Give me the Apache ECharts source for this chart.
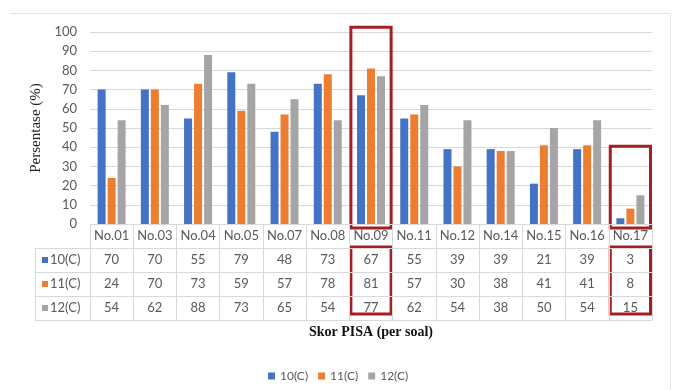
<!DOCTYPE html>
<html><head><meta charset="utf-8">
<script src="https://cdn.jsdelivr.net/npm/echarts@6/dist/echarts.min.js"></script>
<style>html,body{margin:0;padding:0;background:#fff}#c{width:676px;height:390px}</style>
</head><body><div id="c"></div>
<script>
const categories = ['No.01','No.03','No.04','No.05','No.07','No.08','No.09','No.11','No.12','No.14','No.15','No.16','No.17'];
const seriesNames = ['10(C)','11(C)','12(C)'];
const s10 = [70,70,55,79,48,73,67,55,39,39,21,39,3];
const s11 = [24,70,73,59,57,78,81,57,30,38,41,41,8];
const s12 = [54,62,88,73,65,54,77,62,54,38,50,54,15];
const yTicks = [0,10,20,30,40,50,60,70,80,90,100];
const highlights = ['No.09','No.17'];
const highlightTops = [102.5, 40.5];
const colors = ['#4472C4','#ED7D31','#A5A5A5'];
const allValues = [s10, s11, s12];

const chart = echarts.init(document.getElementById('c'));
const txt = '#595959', line = '#d9d9d9', font = 'Lato, "Open Sans", sans-serif';

const xAxes = [{
  type:'category', data:categories, position:'bottom', gridIndex:0,
  axisLine:{show:true,lineStyle:{color:line}},
  axisTick:{show:true,interval:0,length:96,lineStyle:{color:line}},
  axisLabel:{color:txt,fontSize:13,fontFamily:font,margin:5,interval:0}
}];
allValues.forEach((vals,i)=>{
  xAxes.push({
    type:'category', data:vals.map(String), position:'bottom', offset:24*(i+1),
    axisLine:{show:true,lineStyle:{color:line}},
    axisTick:{show:false},
    axisLabel:{color:txt,fontSize:13,fontFamily:font,margin:5,interval:0}
  });
});
xAxes.push({type:'category',data:categories.map(()=>''),position:'bottom',offset:96,
  axisLine:{show:true,lineStyle:{color:line}},axisTick:{show:false},axisLabel:{show:false}});

const option = {
  animation:false,
  color:colors,
  grid:{left:90,right:24,top:32,bottom:166,containLabel:false},
  legend:{data:seriesNames,left:263,top:365,icon:'rect',itemWidth:7,itemHeight:7,itemGap:10,
    textStyle:{color:txt,fontSize:12,fontFamily:font}},
  xAxis:xAxes,
  yAxis:{type:'value',min:yTicks[0],max:yTicks[yTicks.length-1],interval:10,
    name:'Persentase (%)',nameLocation:'middle',nameRotate:90,nameGap:43,
    nameTextStyle:{fontFamily:'"Liberation Serif", serif',fontSize:15,color:'#222'},
    axisLine:{show:false},axisTick:{show:false},
    axisLabel:{color:txt,fontSize:13,fontFamily:font,margin:13},
    splitLine:{lineStyle:{color:line}}},
  series:allValues.map((vals,i)=>({
    name:seriesNames[i],type:'bar',data:vals,barWidth:8,barGap:'25%',xAxisIndex:0
  }))
};
chart.setOption(option);

const g = [];
const rowTop = 224;
g.push({type:'line',shape:{x1:10,y1:13.5,x2:671,y2:13.5},style:{stroke:'#e3e3e3',lineWidth:1}});
g.push({type:'line',shape:{x1:670.5,y1:13,x2:670.5,y2:390},style:{stroke:'#e3e3e3',lineWidth:1}});
for(let r=1;r<=4;r++){
  g.push({type:'line',shape:{x1:35,y1:rowTop+24*r+0.5,x2:90,y2:rowTop+24*r+0.5},style:{stroke:line,lineWidth:1}});
}
g.push({type:'line',shape:{x1:35.5,y1:rowTop+24,x2:35.5,y2:rowTop+96},style:{stroke:line,lineWidth:1}});
seriesNames.forEach((n,i)=>{
  g.push({type:'rect',shape:{x:42,y:rowTop+24*(i+1)+9,width:6,height:6},style:{fill:colors[i]}});
  g.push({type:'text',x:50,y:rowTop+24*(i+1)+12,style:{text:n,fill:txt,font:'13px '+font,textVerticalAlign:'middle'}});
});
const bw = chart.getModel().getComponent('xAxis',0).axis.getBandWidth();
highlights.forEach((c,i)=>{
  const [cx,ty] = chart.convertToPixel({xAxisIndex:0,yAxisIndex:0},[c,highlightTops[i]]);
  const [,by] = chart.convertToPixel({xAxisIndex:0,yAxisIndex:0},[c,0]);
  g.push({type:'rect',shape:{x:cx-bw/2+1.5,y:ty,width:bw-3,height:by+4-ty},style:{fill:'none',stroke:'#A51E22',lineWidth:3}});
  g.push({type:'rect',shape:{x:cx-bw/2+1.5,y:rowTop+23,width:bw-3,height:67},style:{fill:'none',stroke:'#A51E22',lineWidth:3}});
});
g.push({type:'text',x:371,y:332,style:{text:'Skor PISA (per soal)',fill:'#111',font:'bold 14px "Liberation Serif", serif',textAlign:'center',textVerticalAlign:'middle'}});
chart.setOption({graphic:g});
</script>
</body></html>
